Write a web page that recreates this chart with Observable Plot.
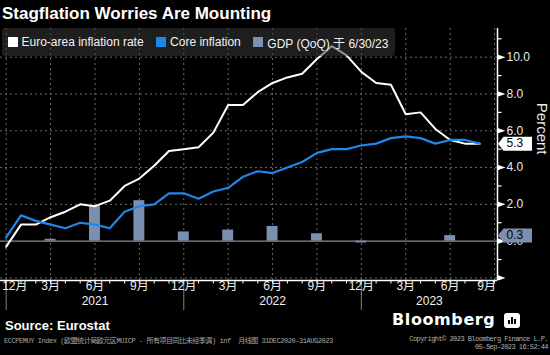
<!DOCTYPE html>
<html><head><meta charset="utf-8">
<script src="https://cdn.jsdelivr.net/npm/d3@7"></script>
<script src="https://cdn.jsdelivr.net/npm/@observablehq/plot@0.6"></script>
<style>
html,body{margin:0;padding:0;background:#000;}
#wrap{position:relative;width:550px;height:355px;overflow:hidden;background:#000;font-family:'Liberation Sans','Noto Sans CJK SC',sans-serif;color:#fff;}
#chart{position:absolute;left:0;top:0;}
#title{position:absolute;left:2px;top:4px;font-weight:bold;font-size:17px;line-height:20px;white-space:nowrap;color:#fff;}
#legend{position:absolute;left:2px;top:28px;width:393px;height:28px;background:rgba(54,54,54,0.55);border-radius:3px;display:flex;align-items:center;font-size:12px;color:#f2f2f2;white-space:nowrap;}
#legend .item{display:flex;align-items:center;margin-left:5.5px;margin-right:7px;}
#legend .sw{width:10px;height:10px;margin-right:4px;}
#source{position:absolute;left:5px;top:318px;font-weight:bold;font-size:13px;line-height:15px;color:#fff;}
#note{position:absolute;left:4px;top:337px;font-family:'Liberation Mono','Noto Sans CJK SC',monospace;font-size:7px;line-height:8px;letter-spacing:-0.45px;color:#a8a8a8;white-space:nowrap;}
#logo{position:absolute;left:392px;top:311px;font-family:'DejaVu Sans',sans-serif;font-weight:bold;font-size:16px;line-height:18px;letter-spacing:0.6px;color:#fff;}
#icon{position:absolute;left:504px;top:313px;width:16px;height:15px;background:#fff;border-radius:3px;}
#icon span{position:absolute;bottom:4px;width:2px;background:#000;}
#copy{position:absolute;right:2px;top:336px;font-family:'Liberation Mono',monospace;font-size:7px;line-height:7.5px;letter-spacing:-0.55px;color:#b0b0b0;text-align:right;white-space:nowrap;}
</style></head>
<body>
<div id="wrap">
  <div id="chart"></div>
  <div id="title">Stagflation Worries Are Mounting</div>
  <div id="legend"></div>
  <div id="source">Source: Eurostat</div>
  <div id="note">ECCPEMUY Index (欧盟统计局欧元区MUICP - 所有项目同比未经季调) inf&nbsp;&nbsp;月线图 31DEC2020-31AUG2023</div>
  <div id="logo">Bloomberg</div>
  <div id="icon"><span style="left:4px;height:4px"></span><span style="left:7px;height:7px"></span><span style="left:10px;height:5px"></span></div>
  <div id="copy">Copyright© 2023 Bloomberg Finance L.P.<br>05-Sep-2023 16:52:44</div>
</div>
<script>
// ---- data ----
const months = ["2020-12",
  "2021-01","2021-02","2021-03","2021-04","2021-05","2021-06","2021-07","2021-08","2021-09","2021-10","2021-11","2021-12",
  "2022-01","2022-02","2022-03","2022-04","2022-05","2022-06","2022-07","2022-08","2022-09","2022-10","2022-11","2022-12",
  "2023-01","2023-02","2023-03","2023-04","2023-05","2023-06","2023-07","2023-08"];
const headline = [-0.3,
  0.9,0.9,1.3,1.6,2.0,1.9,2.2,3.0,3.4,4.1,4.9,5.0,
  5.1,5.9,7.4,7.4,8.1,8.6,8.9,9.1,9.9,10.6,10.1,9.2,
  8.6,8.5,6.9,7.0,6.1,5.5,5.3,5.3];
const core = [0.2,
  1.4,1.1,0.9,0.7,1.0,0.9,0.7,1.6,1.9,2.0,2.6,2.6,
  2.3,2.7,2.9,3.5,3.8,3.7,4.0,4.3,4.8,5.0,5.0,5.2,
  5.3,5.6,5.7,5.6,5.3,5.5,5.5,5.3];
const gdpQuarterEnd = ["2021-03","2021-06","2021-09","2021-12","2022-03","2022-06","2022-09","2022-12","2023-03","2023-06"];
const gdp = [0.1,1.9,2.2,0.5,0.6,0.8,0.4,-0.1,0.0,0.3];
const tickMonths = ["2020-12","2021-03","2021-06","2021-09","2021-12","2022-03","2022-06","2022-09","2022-12","2023-03","2023-06","2023-09"];
const tickLabels = ["12月","3月","6月","9月","12月","3月","6月","9月","12月","3月","6月","9月"];
const years = ["2021","2022","2023"];
const yearStart = ["2020-12","2021-12","2022-12"];
const yMajor = [-2,0,2,4,6,8,10];
const yLabels = [0,2,4,6,8,10];
const yMinor = [-1,1,3,5,7,9,11];
const legendNames = ["Euro-area inflation rate","Core inflation","GDP (QoQ) 于 6/30/23"];

// ---- styles ----
const cWhite = "#ffffff", cBlue = "#1f87e8", cGdp = "#7b8fb1";
const legendColors = [cWhite, cBlue, cGdp];

// month index helper (Dec 2020 = 0)
const mIdx = s => { const [y,m] = s.split("-").map(Number); return (y-2020)*12 + m - 12; };
const xMin = -0.385, xMax = 33.2, yMin = -2.14, yMax = 11.56;

const lineData = months.map((m,i)=>({i:mIdx(m), h:headline[i], c:core[i]}));
const gdpData = gdpQuarterEnd.map((m,i)=>({i:mIdx(m), v:gdp[i]}));
const ticks = tickMonths.map((m,i)=>({i:mIdx(m), t:tickLabels[i]}));
const allMonthIdx = d3.range(0, mIdx("2023-09")+1);
const yearSeps = yearStart.map(mIdx);
const yearPos = years.map((y,k)=>({t:y, i:(yearSeps[k] + (k<yearSeps.length-1 ? yearSeps[k+1] : xMax))/2}));
const tags = [{v:headline[headline.length-1], fill:cWhite}, {v:gdp[gdp.length-1], fill:cGdp}];

const arrow = {draw(ctx){ctx.moveTo(0,-2.8);ctx.lineTo(8,0);ctx.lineTo(0,2.8);ctx.closePath();}};
const minorTick = {draw(ctx){ctx.moveTo(0,0);ctx.lineTo(4,0);}};
const tagShape = {draw(ctx){ctx.moveTo(0.5,0);ctx.lineTo(6,-7);ctx.lineTo(34.5,-7);ctx.lineTo(34.5,7);ctx.lineTo(6,7);ctx.closePath();}};

const chart = Plot.plot({
  width: 550, height: 315,
  marginLeft: 0, marginRight: 53, marginTop: 28, marginBottom: 35,
  x: {type:"linear", domain:[xMin, xMax], axis:null},
  y: {type:"linear", domain:[yMin, yMax], axis:null},
  style: {background:"transparent", fontFamily:"'Liberation Sans','Noto Sans CJK SC',sans-serif", fontSize:"12px", color:"#eee", overflow:"visible"},
  marks: [
    Plot.ruleY(yMajor.filter(d=>d!==0), {stroke:"#6a6a6a", strokeDasharray:"2,3", strokeWidth:1}),
    Plot.ruleX(ticks, {x:"i", stroke:"#6a6a6a", strokeDasharray:"2,3", strokeWidth:1}),
    Plot.ruleY([0], {stroke:"#8a8a8a", strokeWidth:1.4}),
    Plot.rectY(gdpData, {x1:d=>d.i-0.37, x2:d=>d.i+0.37, y:"v", fill:cGdp}),
    Plot.line(lineData, {x:"i", y:"h", stroke:cWhite, strokeWidth:2, strokeLinejoin:"round"}),
    Plot.line(lineData, {x:"i", y:"c", stroke:cBlue, strokeWidth:2.2, strokeLinejoin:"round"}),
    Plot.ruleY([yMin], {stroke:"#fff", strokeWidth:1.5}),
    Plot.ruleX([xMax], {stroke:"#fff", strokeWidth:1.5}),
    Plot.ruleX(allMonthIdx, {stroke:"#fff", strokeWidth:1, insetTop:252, insetBottom:-3.5}),
    Plot.ruleX(yearSeps, {stroke:"#808080", strokeWidth:1, insetTop:255, insetBottom:-30}),
    Plot.text(yLabels, {frameAnchor:"right", y:d=>d, text:d=>d.toFixed(1), textAnchor:"start", dx:9, fill:"#eaeaea", fontSize:12}),
    Plot.dot(yMajor, {frameAnchor:"right", y:d=>d, symbol:arrow, r:3, fill:"#fff", stroke:"none"}),
    Plot.dot(yMinor, {frameAnchor:"right", y:d=>d, symbol:minorTick, r:3, fill:"none", stroke:"#fff", strokeWidth:1.2}),
    Plot.dot(tags, {frameAnchor:"right", y:"v", symbol:tagShape, r:3, fill:"fill", stroke:"none"}),
    Plot.text(tags, {frameAnchor:"right", y:"v", text:d=>d.v.toFixed(1), textAnchor:"start", dx:9, fill:"#000", fontSize:12}),
    Plot.text(ticks.slice(0,1), {x:"i", text:"t", frameAnchor:"bottom", dy:9, textAnchor:"start", dx:-4, fill:"#f0f0f0", fontSize:12}),
    Plot.text(ticks.slice(1,-1), {x:"i", text:"t", frameAnchor:"bottom", dy:9, fill:"#f0f0f0", fontSize:12}),
    Plot.text(ticks.slice(-1), {x:"i", text:"t", frameAnchor:"bottom", dy:9, textAnchor:"end", dx:1.5, fill:"#f0f0f0", fontSize:12}),
    Plot.text(yearPos, {x:"i", text:"t", frameAnchor:"bottom", dy:24, fill:"#f0f0f0", fontSize:12}),
    Plot.text(["Percent"], {frameAnchor:"right", text:d=>d, dx:44, rotate:90, fill:"#eaeaea", fontSize:15})
  ]
});
document.getElementById("chart").appendChild(chart);

const legend = document.getElementById("legend");
legendNames.forEach((n,k)=>{
  const it = document.createElement("div"); it.className="item";
  const sw = document.createElement("div"); sw.className="sw"; sw.style.background = legendColors[k];
  const tx = document.createElement("span"); tx.textContent = n;
  it.appendChild(sw); it.appendChild(tx); legend.appendChild(it);
});
</script>
</body></html>
